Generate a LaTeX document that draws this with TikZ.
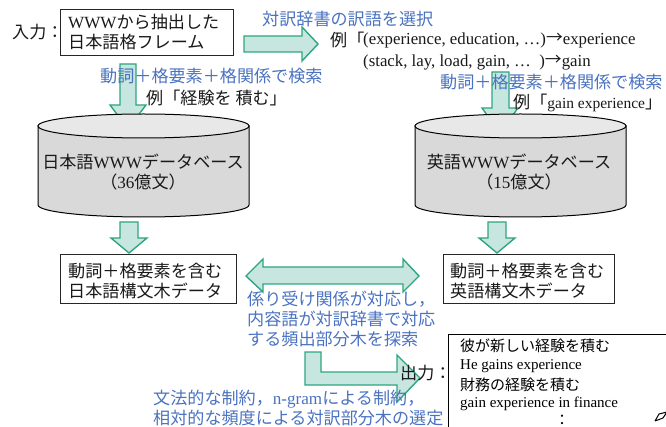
\documentclass[tikz,border=0pt]{standalone}
\usepackage{fontspec}
\setmainfont{Liberation Serif}
\newfontfamily\jp{Noto Sans CJK JP}
\newcommand{\lt}[1]{{\rmfamily #1}}
\definecolor{afill}{HTML}{C7E6DF}
\definecolor{aline}{HTML}{2DA680}
\definecolor{tblue}{HTML}{4A72C0}
\definecolor{cylbody}{HTML}{D9D9D9}
\definecolor{cyltop}{HTML}{E8E8E8}
\begin{document}
\begin{tikzpicture}[x=1pt,y=-1pt,
  blockarrow/.style={fill=afill,draw=aline,line width=1.4pt,line join=miter},
  framebox/.style={draw=black!85,line width=0.9pt,inner sep=0pt},
  jt/.style={font=\jp\fontsize{17.1}{20.5}\selectfont,inner sep=0pt,text=black!90},
  jb/.style={font=\jp\fontsize{17.1}{20}\selectfont,inner sep=0pt,text=tblue},
  lt/.style={font=\fontsize{16.8}{20}\selectfont,inner sep=0pt,text=black!90},
  cyl/.style={fill=cylbody,draw=black,line width=1pt},
  cyltopst/.style={fill=cyltop,draw=black,line width=1pt}]
\useasboundingbox (0,0) rectangle (666,427);
\clip (0,0) rectangle (666,427);

% ---- input box
\node[jt,anchor=west] (inlab) at (12,32) {入力：};
\node[framebox,minimum width=173pt,minimum height=46pt] (box1) at (146.5,32) {};
\node[jt,anchor=west,align=left] (box1t) at (68,32) {\lt{WWW}から抽出した\\日本語格フレーム};

% ---- right arrow 1
\draw[blockarrow] (244,36) -- (302,36) -- (302,27) -- (318,44) -- (302,61) -- (302,52) -- (244,52) -- cycle;
\node[jb,anchor=west] (sel) at (262,19) {対訳辞書の訳語を選択};
\node[jt,anchor=west] (ex1a) at (330,40) {例「};
\node[lt,anchor=west] (ex1b) at (363,40) {(experience, education, …)\raisebox{0.05em}{{\jp →}}experience};
\node[lt,anchor=west] (ex1c) at (363,62) {(stack, lay, load, gain, …\ \ )\raisebox{0.05em}{{\jp →}}gain};

% ---- down arrow 1
\draw[blockarrow] (120,64) -- (136,64) -- (136,105) -- (146,105) -- (128,129) -- (110,105) -- (120,105) -- cycle;
\node[jb,anchor=west] (srch1) at (100,76) {動詞＋格要素＋格関係で検索};
\node[jt,anchor=west] (ex2) at (146,98) {例「経験を 積む」};

% ---- down arrow right
\draw[blockarrow] (492,72) -- (509,72) -- (509,108) -- (518,108) -- (500,133) -- (482,108) -- (492,108) -- cycle;
\node[jb,anchor=west] (srch2) at (440,82) {動詞＋格要素＋格関係で検索};
\node[jt,anchor=west] (ex3) at (513,103) {例「{\fontsize{15.5}{20}\selectfont\lt{gain experience}}」};

% ---- cylinders
\path[cyl] (38,126) -- (38,205) arc[start angle=180,end angle=0,x radius=105.5,y radius=12] -- (249,126) -- cycle;
\draw[cyltopst] (143.5,126) ellipse[x radius=105.5,y radius=12];
\node[jt,align=center] (db1) at (143,172) {日本語\lt{WWW}データベース\\（\lt{36}億文）};

\path[cyl] (415,126) -- (415,205) arc[start angle=180,end angle=0,x radius=105.5,y radius=12] -- (626,126) -- cycle;
\draw[cyltopst] (520.5,126) ellipse[x radius=105.5,y radius=12];
\node[jt,align=center] (db2) at (519,172) {英語\lt{WWW}データベース\\（\lt{15}億文）};

% ---- down arrows below cylinders
\draw[blockarrow] (120,222) -- (138,222) -- (138,238) -- (147,238) -- (129,253) -- (111,238) -- (120,238) -- cycle;
\draw[blockarrow] (488,222) -- (506,222) -- (506,238) -- (515,238) -- (497,253) -- (479,238) -- (488,238) -- cycle;

% ---- syntax tree boxes
\node[framebox,minimum width=176pt,minimum height=49pt] (box2) at (148,278.5) {};
\node[jt,anchor=west,align=left] (box2t) at (68,281) {動詞＋格要素を含む\\日本語構文木データ};
\node[framebox,minimum width=171pt,minimum height=49pt] (box3) at (528.5,278.5) {};
\node[jt,anchor=west,align=left] (box3t) at (450,281) {動詞＋格要素を含む\\英語構文木データ};

% ---- double arrow
\draw[blockarrow] (246,276) -- (263,259) -- (263,267) -- (403,267) -- (403,259) -- (419,276) -- (403,292) -- (403,284) -- (263,284) -- (263,292) -- cycle;
\node[jb,anchor=north west,align=left] (match) at (247,291) {係り受け関係が対応し，\\内容語が対訳辞書で対応\\する頻出部分木を探索};

% ---- bent arrow
\draw[blockarrow] (305,352) -- (321,352) -- (321,372) -- (397,372) -- (397,355) -- (420,378) -- (397,402) -- (397,385) -- (305,385) -- cycle;
\node[jb,anchor=west,align=left] (constr) at (153,408) {文法的な制約，\lt{n-gram}による制約，\\相対的な頻度による対訳部分木の選定};

% ---- output
\node[jt,anchor=west] (outlab) at (400,373) {出力：};
\draw[line width=1pt] (448,440) -- (448,334) -- (680,334);
\node[font=\jp\fontsize{15}{19}\selectfont,inner sep=0pt,anchor=west] (o1) at (460,346) {彼が新しい経験を積む};
\node[font=\fontsize{15}{19}\selectfont,inner sep=0pt,anchor=west] (o2) at (460,366) {He gains experience};
\node[font=\jp\fontsize{15}{19}\selectfont,inner sep=0pt,anchor=west] (o3) at (460,385) {財務の経験を積む};
\node[font=\fontsize{15}{19}\selectfont,inner sep=0pt,anchor=west] (o4) at (460,404) {gain experience in finance};
\node[font=\jp\fontsize{15}{19}\selectfont,inner sep=0pt] (o5) at (562,420) {：};
\draw[line width=1pt] (655,421) -- (659,414) -- (667,412) (655,421) -- (663,418) -- (667,412);
\end{tikzpicture}
\end{document}
